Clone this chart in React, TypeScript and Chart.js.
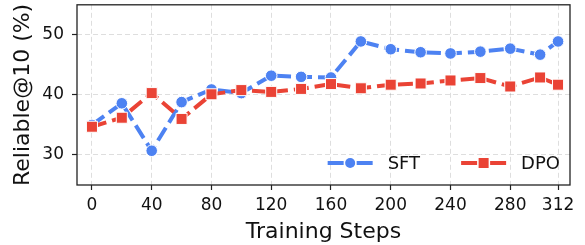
import React, { useEffect, useRef } from "react";
import { Chart, registerables } from "chart.js";

Chart.register(...registerables);

const steps = [0, 20, 40, 60, 80, 100, 120, 140, 160, 180, 200, 220, 240, 260, 280, 300, 312];
const sftValues = [35.0, 38.6, 30.7, 38.8, 40.9, 40.3, 43.2, 43.0, 42.9, 48.9, 47.6, 47.1, 46.9, 47.2, 47.7, 46.7, 48.9];
const dpoValues = [34.7, 36.2, 40.3, 36.0, 40.1, 40.8, 40.5, 41.0, 41.8, 41.1, 41.7, 41.9, 42.4, 42.8, 41.4, 42.9, 41.7];
const xTicks = [0, 40, 80, 120, 160, 200, 240, 280, 312];
const yTicks = [30, 40, 50];
const seriesNames = ["SFT", "DPO"];
const seriesColors = ["#4d82f2", "#ea4335"];
const seriesMarkers = ["circle", "rect"];

const FONT = "'DejaVu Sans', sans-serif";
const SHIFT = 4;

const framePlugin = {
  id: "frame",
  afterDraw(chart: any) {
    const { ctx, chartArea } = chart;
    ctx.save();
    ctx.strokeStyle = "#222";
    ctx.lineWidth = 1.3;
    ctx.strokeRect(chartArea.left, chartArea.top, chartArea.right - chartArea.left, chartArea.bottom - chartArea.top);

    // legend (line + marker + label), bottom-right inside the plot
    ctx.font = `18px ${FONT}`;
    ctx.textBaseline = "middle";
    ctx.textAlign = "left";
    const lineW = 45;
    const gapText = 15;
    const gapItems = 41;
    const widths = seriesNames.map((n) => ctx.measureText(n).width);
    let total = 0;
    widths.forEach((w, i) => {
      total += lineW + gapText + w + (i < widths.length - 1 ? gapItems : 0);
    });
    let x = chartArea.right - 10 - total;
    const y = chartArea.bottom - 22;
    seriesNames.forEach((name, i) => {
      const color = seriesColors[i];
      ctx.save();
      ctx.strokeStyle = color;
      ctx.lineWidth = 4;
      ctx.setLineDash([16, 13]);
      ctx.beginPath();
      ctx.moveTo(x, y);
      ctx.lineTo(x + lineW, y);
      ctx.stroke();
      ctx.setLineDash([]);
      ctx.fillStyle = color;
      const cx = x + lineW / 2;
      if (seriesMarkers[i] === "circle") {
        ctx.beginPath();
        ctx.arc(cx, y, 5, 0, Math.PI * 2);
        ctx.fill();
      } else {
        ctx.fillRect(cx - 5, y - 5, 10, 10);
      }
      ctx.restore();
      ctx.fillStyle = "#111";
      ctx.fillText(name, x + lineW + gapText, y + 1);
      x += lineW + gapText + widths[i] + gapItems;
    });
    ctx.restore();
  },
};

export default function App() {
  const canvasRef = useRef<HTMLCanvasElement | null>(null);

  useEffect(() => {
    document.body.style.margin = "0";
    const canvas = canvasRef.current;
    if (!canvas) return;
    const valuesList = [sftValues, dpoValues];
    const chart = new Chart(canvas, {
      type: "line",
      data: {
        datasets: seriesNames.map((name, i) => ({
          label: name,
          data: steps.map((s, j) => ({ x: s, y: valuesList[i][j] })),
          borderColor: seriesColors[i],
          backgroundColor: seriesColors[i],
          borderWidth: 4,
          borderDash: [15, 6],
          pointStyle: seriesMarkers[i] as any,
          pointRadius: seriesMarkers[i] === "circle" ? 5.8 : 7.8,
          pointBorderColor: "#ffffff",
          pointBorderWidth: 1,
          pointBackgroundColor: seriesColors[i],
          tension: 0,
          order: i === 0 ? 1 : 0,
        })),
      },
      options: {
        animation: false,
        responsive: false,
        devicePixelRatio: 1,
        layout: { padding: { top: 5, right: 15, left: 0, bottom: 0 } },
        plugins: {
          legend: { display: false },
          tooltip: { enabled: false },
        },
        scales: {
          x: {
            type: "linear",
            min: -10,
            max: 320,
            afterBuildTicks: (scale: any) => {
              scale.ticks = xTicks.map((v) => ({ value: v }));
            },
            afterFit: (scale: any) => {
              scale.height = 60;
              scale.paddingLeft = 0;
              scale.paddingRight = 0;
            },
            ticks: {
              font: { family: FONT, size: 17 },
              color: "#111",
              padding: 5,
              maxRotation: 0,
              autoSkip: false,
              callback: (v: any) => String(v),
            },
            grid: {
              color: "rgba(0,0,0,0.13)",
              lineWidth: 1,
              tickLength: 5,
              tickColor: "#222",
              tickWidth: 1.2,
            },
            border: { display: false, dash: [5, 3] },
            title: {
              display: true,
              text: "Training Steps",
              font: { family: FONT, size: 22 },
              color: "#111",
              padding: { top: 0, bottom: 0 },
            },
          },
          y: {
            type: "linear",
            min: 25,
            max: 55,
            afterBuildTicks: (scale: any) => {
              scale.ticks = yTicks.map((v) => ({ value: v }));
            },
            afterFit: (scale: any) => {
              scale.width = 77;
              scale.paddingTop = 0;
              scale.paddingBottom = 0;
            },
            ticks: {
              font: { family: FONT, size: 17 },
              color: "#111",
              padding: 8,
              callback: (v: any) => String(v),
            },
            grid: {
              color: "rgba(0,0,0,0.13)",
              lineWidth: 1,
              tickLength: 5,
              tickColor: "#222",
              tickWidth: 1.2,
            },
            border: { display: false, dash: [5, 3] },
            title: {
              display: true,
              text: "Reliable@10 (%)",
              font: { family: FONT, size: 22 },
              color: "#111",
              padding: { top: 10, bottom: 0 },
            },
          },
        },
      },
      plugins: [framePlugin],
    });
    return () => chart.destroy();
  }, []);

  return (
    <div style={{ width: 585, height: 245, overflow: "hidden" }}>
      <canvas
        ref={canvasRef}
        width={585}
        height={245 + SHIFT}
        style={{ display: "block", marginTop: -SHIFT }}
      />
    </div>
  );
}
